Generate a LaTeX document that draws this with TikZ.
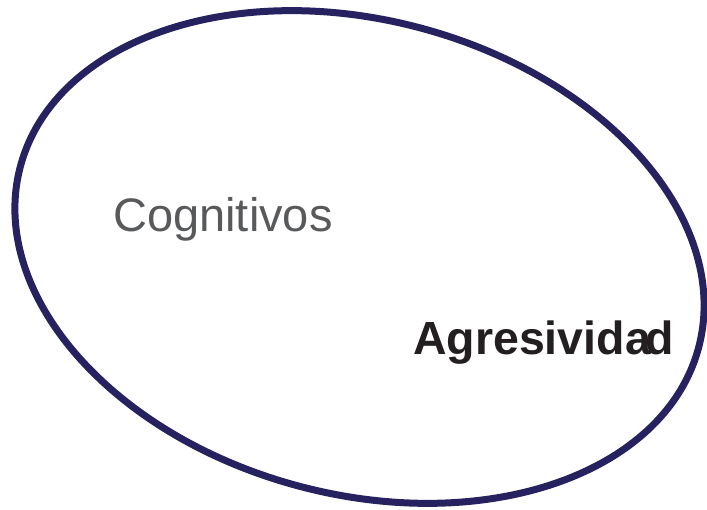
\documentclass[tikz,border=0pt]{standalone}
\usepackage{fontspec}
\setmainfont{Liberation Sans}
\definecolor{navy}{RGB}{38,34,96}
\definecolor{txtgray}{RGB}{88,89,91}
\definecolor{txtdark}{RGB}{35,31,32}
\begin{document}
\begin{tikzpicture}[x=1pt,y=1pt,
  outline/.style={draw=navy,line width=7pt},
  lbl/.style={inner sep=0pt,anchor=base west}]
\useasboundingbox (0,0) rectangle (707,509);
\draw[outline] (359.5,252) ellipse[x radius=351, y radius=237, rotate=-15];
\node[lbl,text=txtgray,font=\fontsize{47}{50}\selectfont] (cog) at (113,277) {Cognitivos};
\node[lbl,text=txtdark,font=\bfseries\fontsize{46.5}{50}\selectfont] (agr) at (413,154) {Agresivida\kern-0.12em d};
\end{tikzpicture}
\end{document}
